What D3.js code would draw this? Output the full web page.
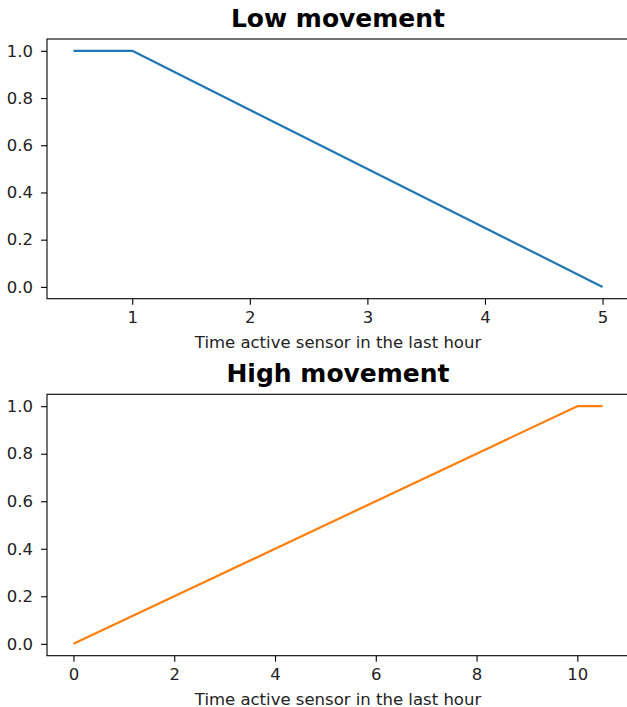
<!DOCTYPE html>
<html><head><meta charset="utf-8">
<script src="https://cdn.jsdelivr.net/npm/d3@7"></script>
<style>
html,body{margin:0;padding:0;background:#fff;}
svg{display:block;font-family:"DejaVu Sans",sans-serif;}
</style></head>
<body><svg id="c" width="627" height="707"></svg>
<script>
const lowX = [0.5, 1, 5];
const lowY = [1, 1, 0];
const highX = [0, 10, 10.5];
const highY = [0, 1, 1];
const lowXTicks = [1, 2, 3, 4, 5];
const highXTicks = [0, 2, 4, 6, 8, 10];
const yTicks = [0, 0.2, 0.4, 0.6, 0.8, 1.0];
const titles = ["Low movement", "High movement"];
const xLabel = "Time active sensor in the last hour";
const colors = ["#1f77b4", "#ff7f0e"];

const svg = d3.select("#c");
const left = 47, right = 629;

function panel(xs, ys, xTicks, title, color, top, bottom) {
  const xmin = d3.min(xs), xmax = d3.max(xs), xpad = (xmax - xmin) * 0.05;
  const x = d3.scaleLinear().domain([xmin - xpad, xmax + xpad]).range([left, right]);
  const y = d3.scaleLinear().domain([-0.05, 1.05]).range([bottom, top]);
  const g = svg.append("g");
  g.append("rect").attr("x", left).attr("y", top).attr("width", right - left).attr("height", bottom - top)
    .attr("fill", "none").attr("stroke", "#000").attr("stroke-width", 1.1);
  const xa = g.append("g").attr("transform", `translate(0,${bottom})`)
    .call(d3.axisBottom(x).tickValues(xTicks).tickFormat(d3.format("d")).tickSize(6).tickPadding(7).tickSizeOuter(0));
  const ya = g.append("g").attr("transform", `translate(${left},0)`)
    .call(d3.axisLeft(y).tickValues(yTicks).tickFormat(d3.format(".1f")).tickSize(6).tickPadding(8).tickSizeOuter(0));
  [xa, ya].forEach(a => {
    a.select(".domain").remove();
    a.selectAll("text").attr("font-size", 16.5).attr("font-family", "DejaVu Sans").attr("fill", "#222");
    a.selectAll("line").attr("stroke", "#000").attr("stroke-width", 1.1);
  });
  g.append("path").datum(xs.map((v, i) => [v, ys[i]]))
    .attr("d", d3.line().x(d => x(d[0])).y(d => y(d[1])))
    .attr("fill", "none").attr("stroke", color).attr("stroke-width", 2.2).attr("stroke-linejoin", "round");
  g.append("text").attr("x", (left + right) / 2).attr("y", top - 12.5).attr("text-anchor", "middle")
    .attr("font-size", 25).attr("font-weight", "bold").attr("fill", "#000").text(title);
  g.append("text").attr("x", (left + right) / 2).attr("y", bottom + 49.5).attr("text-anchor", "middle")
    .attr("font-size", 16.5).attr("fill", "#222").text(xLabel);
}

panel(lowX, lowY, lowXTicks, titles[0], colors[0], 39, 298.7);
panel(highX, highY, highXTicks, titles[1], colors[1], 394.3, 655.7);
</script></body></html>
